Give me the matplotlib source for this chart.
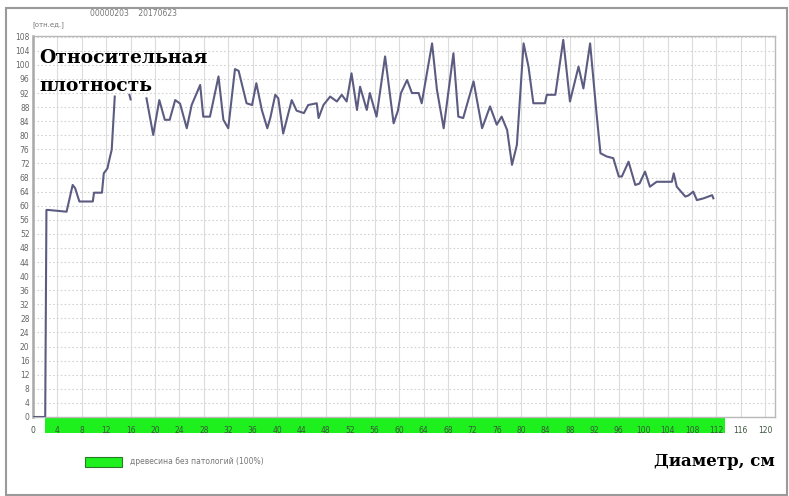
import numpy as np
import matplotlib.pyplot as plt
from matplotlib.patches import Rectangle
import matplotlib.transforms as mtransforms

nan = np.nan

# Diameter (cm) and relative density profile; NaN marks gaps in the trace
diameter = [0, 2.0, 2.2, 2.5, 5.5, 6.5, 6.9, 7.6, 9.8, 10.0, 11.3, 11.6, 12.2,
            12.5, 12.9, 13.4, nan, 15.8, 16.0, nan,
            18.6, 19.7, 20.7, 21.6, 22.4, 23.3, 24.1, 25.2, 26.0, 27.4, 27.9,
            29.0, 30.4, 31.2, 32.0, 33.1, 33.7, 35.0, 35.9, 36.6, 37.5, 38.4,
            38.9, 39.7, 40.2, 41.0, 42.4, 43.2, 44.4, 45.1, 46.5, 46.8, 47.6,
            48.7, 49.8, 50.6, 51.4, 52.2, 53.1, 53.6, 54.7, 55.2, 56.3, 57.7,
            59.1, 59.8, 60.3, 61.3, 62.1, 63.2, 63.7, 65.4, 66.2, 67.3, 68.9,
            69.7, 70.5, 72.2, 73.6, 74.9, 76.0, 76.8, 77.7, 78.5, 79.3, 80.4,
            81.2, 82.0, 83.9, 84.2, 85.6, 86.9, 88.0, 89.4, 90.2, 91.3, 92.4,
            93.0, 94.0, 95.1, 96.0, 96.5, 97.6, 98.7, 99.4, 100.3, 101.1,
            102.2, 104.7, 105.0, 105.5, 106.9, 107.4, 108.2, 108.8, 109.9,
            111.3, 111.5]
density = [0, 0, 58.8, 58.8, 58.3, 65.9, 65.0, 61.2, 61.2, 63.7, 63.7, 69.2,
           70.6, 73.0, 75.9, 91.0, nan, 91.5, 90.2, nan,
           90.5, 80.1, 90.0, 84.4, 84.4, 90.0, 89.0, 82.0, 88.6, 94.3, 85.3,
           85.3, 96.7, 84.4, 82.0, 98.8, 98.3, 89.1, 88.6, 94.8, 87.2, 82.0,
           85.0, 91.5, 90.5, 80.5, 90.0, 87.0, 86.3, 88.6, 89.1, 84.9, 88.6,
           91.0, 89.6, 91.5, 89.6, 97.6, 87.2, 93.8, 87.2, 92.0, 85.3, 102.4,
           83.4, 87.0, 92.0, 95.7, 92.0, 92.0, 89.1, 106.1, 92.9, 82.0, 103.3,
           85.3, 84.9, 95.3, 82.0, 88.2, 83.0, 85.3, 81.5, 71.6, 77.3, 106.1,
           99.5, 89.1, 89.1, 91.5, 91.5, 107.1, 89.6, 99.5, 93.3, 106.1, 85.3,
           74.9, 74.0, 73.5, 68.3, 68.3, 72.5, 65.9, 66.3, 69.7, 65.4,
           66.8, 66.8, 69.2, 65.4, 62.6, 62.9, 64.0, 61.6, 62.1,
           63.0, 62.1]

x_ticks = list(range(0, 121, 4))
y_ticks = list(range(0, 109, 4))
band_start, band_end = 2.0, 113.4
legend_label = "древесина без патологий (100%)"
header = "00000203    20170623"
units = "[отн.ед.]"

W, H = 789, 496
fig = plt.figure(figsize=(W / 100, H / 100), dpi=100)
fig.patch.set_facecolor("white")

ax = fig.add_axes([33 / W, 1 - 417 / H, (775 - 33) / W, (417 - 36) / H])
ax.set_xlim(0, 121.6)
ax.set_ylim(0, 108.2)

# grid: solid verticals, dotted horizontals
for xv in x_ticks:
    ax.axvline(xv, color="#dcdcdc", lw=0.8, zorder=0)
for yv in y_ticks:
    ax.axhline(yv, color="#d2d2d2", lw=0.8, ls=(0, (1.5, 2)), zorder=0)

ax.plot(diameter, density, color="#5c5c82", lw=1.5, zorder=3)

ax.set_xticks(x_ticks)
ax.set_yticks(y_ticks)
ax.tick_params(axis="both", length=0, labelsize=5.5, colors="#666666")
ax.tick_params(axis="x", pad=6.5, labelcolor="#3d553d")
ax.tick_params(axis="y", pad=2.5)
for s in ax.spines.values():
    s.set_color("#b8b8b8")
    s.set_linewidth(1.0)
ax.spines["left"].set_linewidth(1.8)
ax.spines["left"].set_color("#a8a8a8")

# green class band below the axis
trans = mtransforms.blended_transform_factory(ax.transData, ax.transAxes)
ax.add_patch(Rectangle((band_start, -0.043), band_end - band_start, 0.043,
                       transform=trans, facecolor="#1ef01e", edgecolor="none",
                       clip_on=False, zorder=1))

# axis captions
ax.text(1.0, 102.0, "Относительная", family="DejaVu Serif", weight="bold",
        fontsize=13.5, va="center", ha="left", zorder=5)
ax.text(1.0, 94.0, "плотность", family="DejaVu Serif", weight="bold",
        fontsize=13.5, va="center", ha="left", zorder=5)
fig.text(775 / W, 1 - 462 / H, "Диаметр, см", family="DejaVu Serif",
         weight="bold", fontsize=12, ha="right", va="center")

# header info
fig.text(90 / W, 1 - 14 / H, header, fontsize=5.5, color="#777777",
         va="center")
fig.text(32 / W, 1 - 25 / H, units, fontsize=5, color="#777777", va="center")

# legend
fig.patches.append(Rectangle((85 / W, 1 - 467 / H), 37 / W, 10 / H,
                             transform=fig.transFigure, facecolor="#1ef01e",
                             edgecolor="#2a7a2a", lw=0.8))
fig.text(130 / W, 1 - 462 / H, legend_label, fontsize=5.5, color="#777777",
         va="center")

# outer frame
fig.patches.append(Rectangle((6 / W, 1 / H), 781 / W, 487 / H,
                             transform=fig.transFigure, facecolor="none",
                             edgecolor="#9a9a9a", lw=1.5))

fig.savefig("out.png", dpi=100)
